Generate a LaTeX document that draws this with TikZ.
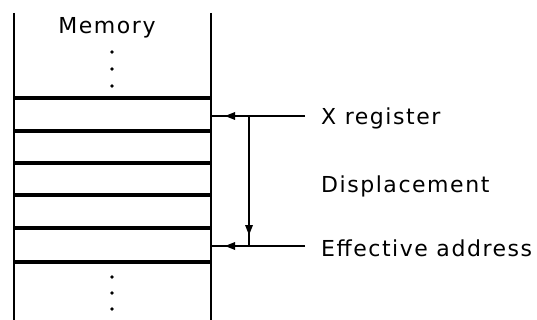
\documentclass[tikz,border=0pt]{standalone}
\usepackage{fontspec}
\setmainfont{DejaVu Sans}[LetterSpace=7]
\usetikzlibrary{arrows.meta}
\begin{document}
\begin{tikzpicture}[x=1pt,y=-1pt,
  wall/.style={line width=2.4pt},
  cell/.style={line width=3.2pt},
  lead/.style={line width=2.6pt},
  ptr/.style={line width=1.3pt},
  txt/.style={inner sep=0pt,font=\fontsize{22}{24}\selectfont},
  lbl/.style={txt,anchor=west},
  dotm/.style={circle,fill=black,inner sep=0pt,minimum size=3.8pt},
  head/.style={fill=black}]
\useasboundingbox (0,0) rectangle (537,320);
% walls
\coordinate (lt) at (14,13); \coordinate (lb) at (14,320);
\coordinate (rt) at (211,13); \coordinate (rb) at (211,320);
\draw[wall] (lt) -- (lb);
\draw[wall] (rt) -- (rb);
% cells
\foreach \y/\n in {98/c1,131/c2,163/c3,195/c4,228/c5,262/c6}{
  \coordinate (\n l) at (14,\y); \coordinate (\n r) at (211,\y);
  \draw[cell] (\n l) -- (\n r);
}
\node[txt] (mem) at (107,28) {Memory};
% ellipsis dots
\foreach \y/\n in {52/d1,69/d2,86/d3,277/d4,293/d5,309/d6}
  \node[dotm] (\n) at (112,\y) {};
% labels
\node[lbl] (xr) at (321,118) {X register};
\node[lbl] (disp) at (321,186) {Displacement};
\node[lbl] (ea) at (321,248) {Effective address};
% leader lines
\coordinate (xa) at (211,116); \coordinate (xe) at (305,116);
\coordinate (ea1) at (211,246); \coordinate (ee) at (305,246);
\coordinate (vt) at (249,116); \coordinate (vb) at (249,246);
\draw[lead] (xe) -- (xa);
\draw[lead] (ee) -- (ea1);
\draw[ptr] (vt) -- (vb);
% arrowheads
\fill[head] (225,116) -- ++(10,-4) -- ++(0,8) -- cycle;
\fill[head] (225,246) -- ++(10,-4) -- ++(0,8) -- cycle;
\fill[head] (249,235) -- ++(-4,-10) -- ++(8,0) -- cycle;
\end{tikzpicture}
\end{document}
